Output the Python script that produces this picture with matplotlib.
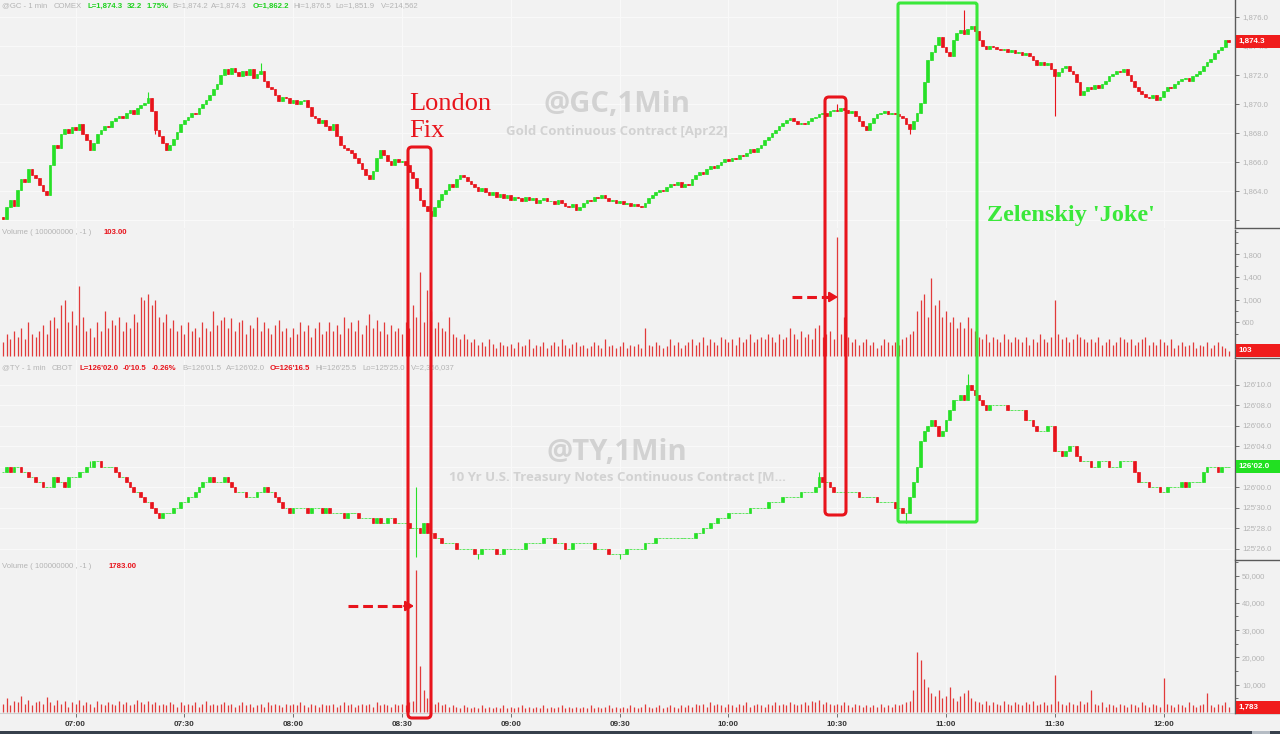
import numpy as np
import matplotlib
matplotlib.use("Agg")
import matplotlib.pyplot as plt
from matplotlib.patches import FancyBboxPatch, Rectangle
from matplotlib.ticker import FixedLocator, FuncFormatter

plt.rcParams['font.family'] = ['Liberation Sans', 'DejaVu Sans']

# ---------------- data (1-minute bars from 06:40) ----------------
time_tick_labels = ["07:00", "07:30", "08:00", "08:30", "09:00", "09:30",
                    "10:00", "10:30", "11:00", "11:30", "12:00"]
time_tick_minutes = [20, 50, 80, 110, 140, 170, 200, 230, 260, 290, 320]

gc_first_open = 1862.2
gc_close = [
    1862.1, 1862.9, 1863.4, 1863.0, 1864.1, 1864.8, 1864.6, 1865.5, 1865.1, 1864.9,
    1864.4, 1864.0, 1863.7, 1865.8, 1867.2, 1867.0, 1867.9, 1868.3, 1868.0, 1868.4,
    1868.2, 1868.6, 1867.9, 1867.5, 1866.8, 1867.3, 1867.9, 1868.2, 1868.5, 1868.4,
    1868.8, 1869.0, 1869.2, 1869.0, 1869.4, 1869.6, 1869.3, 1869.7, 1869.9, 1870.1,
    1870.4, 1869.5, 1868.2, 1867.8, 1867.3, 1866.8, 1867.2, 1867.6, 1868.1, 1868.6,
    1868.9, 1869.1, 1869.4, 1869.3, 1869.7, 1870.0, 1870.3, 1870.6, 1871.0, 1871.4,
    1872.0, 1872.4, 1872.1, 1872.5, 1872.2, 1871.9, 1872.3, 1872.0, 1872.4, 1871.8,
    1872.1, 1872.3, 1871.6, 1871.2, 1871.0, 1870.6, 1870.2, 1870.5, 1870.4, 1870.1,
    1870.3, 1870.0, 1870.2, 1870.3, 1869.8, 1869.2, 1869.0, 1868.7, 1868.9, 1868.5,
    1868.2, 1868.6, 1867.8, 1867.2, 1867.0, 1866.8, 1866.6, 1866.3, 1865.9, 1865.5,
    1865.1, 1864.8, 1865.4, 1866.3, 1866.8, 1866.5, 1866.1, 1865.8, 1866.2, 1866.0,
    1866.1, 1865.8, 1865.3, 1864.9, 1864.2, 1863.4, 1863.0, 1862.6, 1862.3, 1862.9,
    1863.4, 1863.8, 1864.1, 1864.5, 1864.3, 1864.8, 1865.1, 1865.0, 1864.7, 1864.5,
    1864.3, 1864.0, 1864.2, 1863.9, 1863.7, 1863.9, 1863.6, 1863.8, 1863.5, 1863.7,
    1863.4, 1863.6, 1863.5, 1863.3, 1863.6, 1863.4, 1863.5, 1863.2, 1863.4, 1863.5,
    1863.3, 1863.3, 1863.1, 1863.4, 1863.2, 1863.0, 1862.9, 1863.1, 1862.7, 1862.9,
    1863.2, 1863.4, 1863.3, 1863.6, 1863.5, 1863.7, 1863.5, 1863.3, 1863.4, 1863.2,
    1863.3, 1863.1, 1863.2, 1863.0, 1863.1, 1863.0, 1862.9, 1863.2, 1863.5, 1863.7,
    1863.9, 1864.1, 1864.0, 1864.3, 1864.5, 1864.4, 1864.6, 1864.3, 1864.5, 1864.4,
    1864.8, 1865.1, 1865.3, 1865.2, 1865.5, 1865.7, 1865.6, 1865.8, 1866.0, 1866.2,
    1866.1, 1866.3, 1866.2, 1866.5, 1866.4, 1866.6, 1866.9, 1866.7, 1867.0, 1867.2,
    1867.5, 1867.7, 1868.0, 1868.2, 1868.5, 1868.7, 1868.9, 1869.0, 1868.8, 1868.6,
    1868.7, 1868.6, 1868.8, 1869.0, 1869.1, 1869.3, 1869.4, 1869.2, 1869.5, 1869.6,
    1869.5, 1869.7, 1869.6, 1869.4, 1869.5, 1869.2, 1868.8, 1868.5, 1868.2, 1868.7,
    1869.0, 1869.3, 1869.4, 1869.5, 1869.3, 1869.4, 1869.3, 1869.2, 1869.0, 1868.6,
    1868.3, 1868.8, 1869.4, 1870.1, 1871.5, 1873.0, 1873.6, 1874.1, 1874.6, 1873.9,
    1873.6, 1873.3, 1874.4, 1874.9, 1875.1, 1874.8, 1875.2, 1875.4, 1875.0, 1874.4,
    1874.0, 1873.8, 1874.0, 1873.9, 1873.8, 1873.7, 1873.8, 1873.6, 1873.7, 1873.5,
    1873.6, 1873.4, 1873.5, 1873.3, 1873.0, 1872.7, 1872.9, 1872.7, 1872.8, 1872.4,
    1871.9, 1872.2, 1872.5, 1872.6, 1872.3, 1872.1, 1871.5, 1870.6, 1870.9, 1871.2,
    1871.0, 1871.3, 1871.1, 1871.4, 1871.6, 1871.9, 1872.1, 1872.3, 1872.2, 1872.4,
    1872.0, 1871.6, 1871.2, 1870.9, 1870.7, 1870.5, 1870.4, 1870.6, 1870.3, 1870.5,
    1870.9, 1871.2, 1871.1, 1871.4, 1871.6, 1871.7, 1871.8, 1871.6, 1871.9, 1872.1,
    1872.3, 1872.6, 1872.9, 1873.1, 1873.5, 1873.7, 1873.9, 1874.4, 1874.3,
]
gc_high_idx = [40, 71, 265, 230, 256]
gc_high_val = [1870.8, 1872.8, 1876.5, 1870.0, 1873.4]
gc_low_idx = [118, 290, 42, 250]
gc_low_val = [1861.7, 1869.2, 1867.9, 1867.9]

gc_volume = [
    250, 400, 300, 450, 350, 500, 300, 600, 400, 350,
    450, 550, 400, 650, 700, 500, 900, 1000, 600, 800,
    550, 1250, 700, 450, 500, 350, 600, 450, 800, 500,
    650, 550, 700, 450, 600, 500, 750, 600, 1050, 1000,
    1100, 900, 1000, 700, 600, 750, 500, 650, 450, 550,
    400, 600, 450, 500, 350, 600, 500, 450, 800, 550,
    650, 700, 500, 680, 450, 600, 650, 400, 550, 500,
    700, 450, 600, 500, 400, 550, 650, 450, 500, 350,
    500, 400, 600, 450, 550, 350, 500, 600, 400, 450,
    600, 450, 550, 400, 700, 500, 600, 450, 650, 400,
    550, 750, 500, 650, 450, 600, 400, 550, 450, 500,
    400, 600, 500, 900, 700, 1480, 600, 1170, 800, 500,
    600, 500, 450, 700, 400, 350, 300, 400, 300, 250,
    300, 200, 250, 180, 300, 220, 150, 250, 200, 180,
    220, 150, 250, 180, 200, 300, 150, 200, 180, 250,
    150, 200, 250, 180, 300, 200, 150, 220, 250, 180,
    200, 150, 180, 250, 200, 150, 300, 180, 200, 150,
    180, 250, 150, 200, 180, 220, 150, 500, 200, 180,
    250, 200, 150, 180, 300, 200, 250, 150, 200, 250,
    300, 200, 250, 350, 200, 300, 250, 200, 350, 300,
    250, 300, 200, 350, 250, 300, 400, 250, 300, 350,
    300, 400, 350, 250, 400, 300, 350, 500, 400, 300,
    450, 350, 400, 300, 500, 550, 350, 400, 450, 300,
    2100, 400, 700, 350, 250, 300, 200, 250, 300, 200,
    250, 150, 200, 300, 250, 200, 250, 200, 300, 350,
    400, 450, 800, 1000, 1100, 700, 1380, 900, 1000, 700,
    800, 600, 700, 500, 600, 500, 700, 500, 450, 350,
    300, 400, 250, 350, 300, 250, 400, 300, 250, 350,
    300, 250, 350, 200, 300, 250, 400, 300, 250, 350,
    1000, 400, 300, 350, 250, 300, 400, 350, 300, 250,
    300, 250, 350, 200, 250, 300, 200, 250, 350, 300,
    250, 300, 200, 250, 300, 350, 200, 250, 200, 300,
    250, 200, 300, 150, 200, 250, 180, 200, 250, 150,
    200, 180, 250, 150, 200, 250, 180, 150, 103,
]

# 10Y note: values in 32nds relative to 126'00
ty_first_open = 1.5
ty_close = [
    1.5, 2.0, 1.5, 2.0, 2.0, 1.5, 1.5, 1.0, 1.0, 0.5,
    0.5, 0.0, 0.0, 0.0, 1.0, 0.5, 0.5, 0.0, 1.0, 1.0,
    1.0, 1.5, 1.5, 2.0, 2.0, 2.5, 2.5, 2.0, 2.0, 2.0,
    2.0, 1.5, 1.0, 1.0, 0.5, 0.0, -0.5, -0.5, -1.0, -1.5,
    -1.5, -2.0, -2.5, -3.0, -2.5, -2.5, -2.5, -2.0, -2.0, -1.5,
    -1.5, -1.0, -1.0, -0.5, 0.0, 0.5, 0.5, 1.0, 0.5, 0.5,
    0.5, 1.0, 0.5, 0.0, -0.5, -0.5, -0.5, -1.0, -1.0, -1.0,
    -0.5, -0.5, 0.0, -0.5, -0.5, -1.0, -1.5, -2.0, -2.0, -2.5,
    -2.0, -2.0, -2.0, -2.0, -2.5, -2.0, -2.0, -2.0, -2.5, -2.0,
    -2.5, -2.5, -2.5, -2.5, -3.0, -2.5, -2.5, -2.5, -3.0, -3.0,
    -3.0, -3.0, -3.5, -3.0, -3.5, -3.5, -3.0, -3.0, -3.5, -3.5,
    -3.5, -3.5, -4.0, -4.0, -4.0, -4.5, -3.5, -4.5, -4.5, -5.0,
    -5.0, -5.5, -5.5, -5.5, -5.5, -6.0, -6.0, -6.0, -6.0, -6.0,
    -6.5, -6.5, -6.0, -6.0, -6.0, -6.0, -6.5, -6.5, -6.0, -6.0,
    -6.0, -6.0, -6.0, -6.0, -5.5, -5.5, -5.5, -5.5, -5.5, -5.0,
    -5.0, -5.0, -5.5, -5.5, -5.5, -6.0, -6.0, -5.5, -5.5, -5.5,
    -5.5, -5.5, -5.5, -6.0, -6.0, -6.0, -6.0, -6.5, -6.5, -6.5,
    -6.5, -6.5, -6.0, -6.0, -6.0, -6.0, -6.0, -5.5, -5.5, -5.5,
    -5.0, -5.0, -5.0, -5.0, -5.0, -5.0, -5.0, -5.0, -5.0, -5.0,
    -5.0, -4.5, -4.5, -4.0, -4.0, -3.5, -3.5, -3.0, -3.0, -3.0,
    -2.5, -2.5, -2.5, -2.5, -2.5, -2.5, -2.0, -2.0, -2.0, -2.0,
    -2.0, -1.5, -1.5, -1.5, -1.5, -1.0, -1.0, -1.0, -1.0, -1.0,
    -0.5, -0.5, -0.5, -0.5, 0.0, 1.0, 0.5, 0.5, 0.0, -0.5,
    -0.5, -0.5, -0.5, -0.5, -0.5, -0.5, -1.0, -1.0, -1.0, -1.0,
    -1.0, -1.5, -1.5, -1.5, -1.5, -1.5, -2.0, -2.0, -2.5, -2.5,
    -1.0, 0.5, 2.0, 4.5, 5.5, 6.0, 6.5, 6.0, 5.0, 5.5,
    6.5, 7.5, 8.5, 8.5, 9.0, 8.5, 10.0, 9.5, 9.0, 8.5,
    8.0, 7.5, 8.0, 8.0, 8.0, 8.0, 8.0, 7.5, 7.5, 7.5,
    7.5, 7.5, 6.5, 6.5, 6.0, 5.5, 5.5, 5.5, 6.0, 6.0,
    3.5, 3.5, 3.0, 3.5, 4.0, 4.0, 3.0, 2.5, 2.5, 2.5,
    2.0, 2.0, 2.5, 2.5, 2.5, 2.0, 2.0, 2.0, 2.5, 2.5,
    2.5, 2.5, 1.5, 0.5, 0.5, 0.5, 0.0, 0.0, 0.0, -0.5,
    -0.5, 0.0, 0.0, 0.0, 0.0, 0.5, 0.0, 0.5, 0.5, 0.5,
    0.5, 1.5, 2.0, 2.0, 2.0, 1.5, 2.0, 2.0, 2.0,
]
ty_high_idx = [114, 266, 24, 225]
ty_high_val = [0.0, 11.0, 2.5, 1.5]
ty_low_idx = [114, 249, 131, 170]
ty_low_val = [-6.8, -3.5, -7.0, -7.0]

ty_volume = [
    3000, 5000, 2500, 4000, 3500, 6000, 3000, 4500, 2500, 3500,
    4000, 3000, 5500, 3500, 2500, 4500, 3000, 4000, 2000, 3500,
    3000, 4500, 2500, 3500, 3000, 2000, 4000, 3000, 2500, 3500,
    3000, 2500, 4000, 3000, 3500, 2500, 3000, 4500, 3500, 3000,
    4000, 3000, 3500, 2500, 3000, 2500, 3500, 3000, 2000, 3500,
    2500, 3000, 2500, 3500, 2000, 3000, 4000, 2500, 3000, 2500,
    3000, 3500, 2500, 3000, 2000, 2500, 3500, 2500, 3000, 2000,
    2500, 3000, 2000, 3500, 2500, 3000, 2500, 2000, 3000, 2500,
    3000, 2500, 3500, 2500, 2000, 3000, 2500, 2000, 3000, 2500,
    2500, 3000, 2000, 2500, 3500, 2500, 3000, 2000, 2500, 3000,
    2500, 3000, 2000, 3500, 2500, 3000, 2500, 2000, 3000, 2500,
    3000, 2500, 3500, 4000, 52000, 17000, 8000, 5000, 3500, 3000,
    3500, 2500, 3000, 2000, 2500, 2000, 1500, 2500, 2000, 1500,
    2000, 1500, 2500, 1500, 2000, 1500, 2000, 1500, 2500, 1500,
    2000, 1500, 2000, 2500, 1500, 2000, 1500, 2000, 1500, 2500,
    1500, 2000, 1500, 2000, 2500, 1500, 2000, 1500, 2000, 1500,
    2000, 1500, 2500, 1500, 2000, 1500, 2000, 2500, 1500, 2000,
    1500, 2000, 1500, 2500, 2000, 1500, 2000, 3000, 2000, 1500,
    2000, 2500, 1500, 2000, 2500, 2000, 1500, 2500, 2000, 2500,
    2000, 3000, 2500, 3000, 2000, 3500, 2500, 3000, 2500, 2000,
    3000, 2500, 2000, 3000, 2500, 3500, 2000, 2500, 3000, 2500,
    2000, 3000, 2500, 3500, 2500, 3000, 2500, 3500, 3000, 2500,
    3000, 3500, 2500, 4000, 3500, 4500, 3000, 3500, 3000, 2500,
    3000, 2500, 3500, 2500, 2000, 3000, 2500, 2000, 2500, 2000,
    2500, 2000, 3000, 2000, 2500, 2000, 3000, 2500, 3000, 3500,
    4000, 8000, 22000, 19000, 12000, 9000, 7000, 6000, 8000, 5000,
    6000, 9000, 5000, 4000, 6000, 7000, 8000, 5000, 4000, 3500,
    3000, 4000, 2500, 3500, 3000, 2500, 4000, 3000, 2500, 3500,
    3000, 2500, 3500, 3000, 4000, 2500, 3000, 3500, 2500, 3000,
    13500, 4000, 3000, 2500, 3500, 3000, 2500, 4000, 3000, 3500,
    8000, 3000, 2500, 3500, 2000, 3000, 2500, 2000, 3000, 2500,
    2000, 3000, 2500, 2000, 3500, 2500, 2000, 3000, 2500, 2000,
    12500, 3000, 2500, 2000, 3000, 2500, 2000, 3500, 2500, 2000,
    2500, 3000, 7000, 2500, 2000, 3000, 2500, 3500, 1783,
]

gc_last_label = "1,874.3"
gc_vol_last_label = "103"
ty_last_label = "126'02.0"
ty_vol_last_label = "1,783"

gc_header = ["@GC - 1 min", "COMEX", "L=1,874.3", "32.2", "1.75%", "B=1,874.2",
             "A=1,874.3", "O=1,862.2", "Hi=1,876.5", "Lo=1,851.9", "V=214,562"]
gc_header_hl = [0, 0, 1, 1, 1, 0, 0, 1, 0, 0, 0]
ty_header = ["@TY - 1 min", "CBOT", "L=126'02.0", "-0'10.5", "-0.26%", "B=126'01.5",
             "A=126'02.0", "O=126'16.5", "Hi=126'25.5", "Lo=125'25.0", "V=2,356,037"]
ty_header_hl = [0, 0, 1, 1, 1, 0, 0, 1, 0, 0, 0]

# ---------------- styling ----------------
W, H = 1280, 734
BG = '#f2f2f2'
GRID = '#f9f9f9'
UP = '#27e027'
DN = '#e8141c'
VOLC = '#e23a3a'
AXC = '#5a5a5a'
LBL = '#b4b4b4'
HL_GREEN = '#1fd11f'

fig = plt.figure(figsize=(12.8, 7.34), dpi=100)
fig.patch.set_facecolor(BG)

X_RIGHT = 1235


def ax_px(y0, y1):
    return fig.add_axes([0, 1 - y1 / H, X_RIGHT / W, (y1 - y0) / H])


ax1 = ax_px(0, 228)
ax2 = ax_px(230, 358)
ax3 = ax_px(360, 560)
ax4 = ax_px(560, 713)
axes = [ax1, ax2, ax3, ax4]

xlo, xhi = -0.83, 339.7
for ax in axes:
    ax.set_facecolor(BG)
    ax.set_xlim(xlo, xhi)
    for s in ['top', 'left', 'bottom']:
        ax.spines[s].set_visible(False)
    ax.spines['right'].set_color(AXC)
    ax.spines['right'].set_linewidth(1.0)
    ax.yaxis.tick_right()
    ax.tick_params(axis='y', which='both', colors=AXC, labelcolor=LBL,
                   labelsize=5.6, length=3, width=0.6, pad=2)
    ax.tick_params(axis='y', which='minor', length=2)
    ax.set_xticks(time_tick_minutes)
    ax.grid(True, which='major', color=GRID, lw=0.9)
    ax.set_axisbelow(True)
    ax.tick_params(axis='x', which='both', bottom=False, labelbottom=False)


def draw_candles(ax, first_open, closes, hi_idx, hi_val, lo_idx, lo_val):
    c = np.asarray(closes, float)
    o = np.concatenate([[first_open], c[:-1]])
    hi = np.maximum(o, c)
    lo = np.minimum(o, c)
    hi[hi_idx] = np.maximum(hi[hi_idx], hi_val)
    lo[lo_idx] = np.minimum(lo[lo_idx], lo_val)
    x = np.arange(len(c))
    col = np.where(c >= o, UP, DN)
    ax.vlines(x, lo, hi, colors=col, lw=0.8, zorder=2)
    ax.bar(x, c - o, bottom=o, width=0.74, color=col, edgecolor=col,
           linewidth=0.5, zorder=3)


# ---- GC price ----
draw_candles(ax1, gc_first_open, gc_close, gc_high_idx, gc_high_val, gc_low_idx, gc_low_val)
ax1.set_ylim(1861.45, 1877.17)
ax1.yaxis.set_major_locator(FixedLocator([1862, 1864, 1866, 1868, 1870, 1872, 1874, 1876]))
ax1.yaxis.set_major_formatter(FuncFormatter(lambda v, p: '' if v < 1863 else f"{v:,.1f}"))

# ---- GC volume ----
ax2.vlines(np.arange(len(gc_volume)), 0, gc_volume, colors=VOLC, lw=0.9, zorder=2)
ax2.set_ylim(-28, 2229)
ax2.yaxis.set_major_locator(FixedLocator([200, 600, 1000, 1400, 1800]))
ax2.yaxis.set_minor_locator(FixedLocator([400, 800, 1200, 1600, 2000, 2200]))
ax2.yaxis.set_major_formatter(FuncFormatter(lambda v, p: '' if v < 300 else f"{int(v):,}"))
ax2.grid(False, axis='y')


# ---- TY price ----
def ty_fmt(v, p=None):
    if abs(v - ty_close[-1]) < 0.01:
        return ''  # covered by the last-value tag
    total = 126 * 32 + v
    h = int(total // 32)
    r = total - h * 32
    return f"{h}'{r:04.1f}"


draw_candles(ax3, ty_first_open, ty_close, ty_high_idx, ty_high_val, ty_low_idx, ty_low_val)
ax3.set_ylim(-7.12, 12.39)
ax3.yaxis.set_major_locator(FixedLocator([-6, -4, -2, 0, 2, 4, 6, 8, 10]))
ax3.yaxis.set_major_formatter(FuncFormatter(ty_fmt))

# ---- TY volume ----
ax4.vlines(np.arange(len(ty_volume)), 0, ty_volume, colors=VOLC, lw=0.9, zorder=2)
ax4.set_ylim(-366, 55678)
ax4.yaxis.set_major_locator(FixedLocator([10000, 20000, 30000, 40000, 50000]))
ax4.yaxis.set_minor_locator(FixedLocator([5000, 15000, 25000, 35000, 45000, 55000]))
ax4.yaxis.set_major_formatter(FuncFormatter(lambda v, p: f"{int(v):,}"))
ax4.grid(False, axis='y')
ax4.spines['bottom'].set_visible(True)
ax4.spines['bottom'].set_color('#cfcfcf')
ax4.tick_params(axis='x', bottom=True, labelbottom=True, length=3, width=0.6,
                colors=AXC, labelcolor='#333333', labelsize=5.8, pad=3)
ax4.set_xticklabels(time_tick_labels, fontweight='bold')


# ---- watermarks ----
def wm(ax, y0, y1, xp, yp, s, size):
    ax.text(xp / X_RIGHT, 1 - (yp - y0) / (y1 - y0), s, transform=ax.transAxes,
            ha='center', va='center', color='#d2d2d2', fontsize=size,
            fontfamily=['Open Sans', 'DejaVu Sans'], fontweight='bold', zorder=1)


wm(ax1, 0, 228, 617, 104, '@GC,1Min', 21)
wm(ax1, 0, 228, 617, 131, 'Gold Continuous Contract [Apr22]', 9.5)
wm(ax3, 360, 560, 617, 452, '@TY,1Min', 21)
wm(ax3, 360, 560, 617, 478, '10 Yr U.S. Treasury Notes Continuous Contract [M...', 9.5)

# ---------------- overlay (pixel coordinates) ----------------
ov = fig.add_axes([0, 0, 1, 1], zorder=20)
ov.set_xlim(0, W)
ov.set_ylim(H, 0)
ov.axis('off')
ov.patch.set_alpha(0)

# headers
gc_header_x = [2, 54, 87, 127, 147, 172, 211, 253, 293, 335, 381]
ty_header_x = [2, 52, 79, 123, 152, 182, 226, 270, 315, 362, 411]
for s, xh, hl in zip(gc_header, gc_header_x, gc_header_hl):
    ov.text(xh, 6, s, fontsize=5.6, color=HL_GREEN if hl else LBL,
            fontweight='bold' if hl else 'normal', va='center', ha='left')
for s, xh, hl in zip(ty_header, ty_header_x, ty_header_hl):
    ov.text(xh, 368, s, fontsize=5.6, color=DN if hl else LBL,
            fontweight='bold' if hl else 'normal', va='center', ha='left')

ov.text(2, 233, 'Volume ( 100000000 , -1 )', fontsize=5.6, color=LBL, va='center')
ov.text(104, 233, '103.00', fontsize=5.6, color=DN, fontweight='bold', va='center')
ov.text(2, 566, 'Volume ( 100000000 , -1 )', fontsize=5.6, color=LBL, va='center')
ov.text(109, 566, '1783.00', fontsize=5.6, color=DN, fontweight='bold', va='center')


# last value tags on the right axis
def tag(ax, val, label, color):
    ypix = H - ax.transData.transform((0, val))[1]
    ov.add_patch(Rectangle((X_RIGHT + 1, ypix - 6.5), 44, 13, fc=color, ec='none', zorder=5))
    ov.text(X_RIGHT + 3, ypix, label, color='white', fontsize=5.8, fontweight='bold',
            va='center', ha='left', zorder=6)


tag(ax1, gc_close[-1], gc_last_label, '#f01c1c')
tag(ax2, gc_volume[-1], gc_vol_last_label, '#f01c1c')
tag(ax3, ty_close[-1], ty_last_label, '#22e022')
tag(ax4, ty_volume[-1], ty_vol_last_label, '#f01c1c')

# separators on right axis strip
for yy in [228, 358, 560, 713]:
    ov.plot([X_RIGHT, W], [yy, yy], color=AXC, lw=1.0)

# bottom scroll strip
ov.add_patch(Rectangle((0, 731), W, 3, fc='#37404c', ec='none'))
ov.add_patch(Rectangle((1252, 731), 18, 3, fc='#b5bcc4', ec='none'))

# annotation boxes
RED = '#e8141c'
GREEN = '#3ae83a'
ov.add_patch(FancyBboxPatch((408, 147), 23, 571, boxstyle='round,pad=0,rounding_size=4',
                            fill=False, ec=RED, lw=2.2, zorder=8))
ov.add_patch(FancyBboxPatch((825, 97), 21, 418, boxstyle='round,pad=0,rounding_size=4',
                            fill=False, ec=RED, lw=2.2, zorder=8))
ov.add_patch(FancyBboxPatch((898, 3), 79, 519, boxstyle='round,pad=0,rounding_size=2',
                            fill=False, ec=GREEN, lw=2.2, zorder=8))

ov.text(409, 104, 'London', fontsize=19, color=RED, fontfamily=['Liberation Serif'],
        va='center', ha='left', zorder=9)
ov.text(409, 131, 'Fix', fontsize=19, color=RED, fontfamily=['Liberation Serif'],
        va='center', ha='left', zorder=9)
ov.text(987, 216, "Zelenskiy 'Joke'", fontsize=17.5, color=GREEN, fontfamily=['Liberation Serif'],
        fontweight='bold', va='center', ha='left', zorder=9)

# dashed arrows
for x0, x1, yy in [(792, 830, 297), (348, 406, 606)]:
    ov.plot([x0, x1], [yy, yy], color=RED, lw=2.2, linestyle=(0, (3.2, 1.6)), zorder=9)
    ov.annotate('', xy=(x1 + 8, yy), xytext=(x1 - 2, yy),
                arrowprops=dict(arrowstyle='-|>,head_length=0.5,head_width=0.3',
                                color=RED, lw=1.5, shrinkA=0, shrinkB=0), zorder=9)

fig.savefig('out.png', dpi=100, facecolor=fig.get_facecolor())
